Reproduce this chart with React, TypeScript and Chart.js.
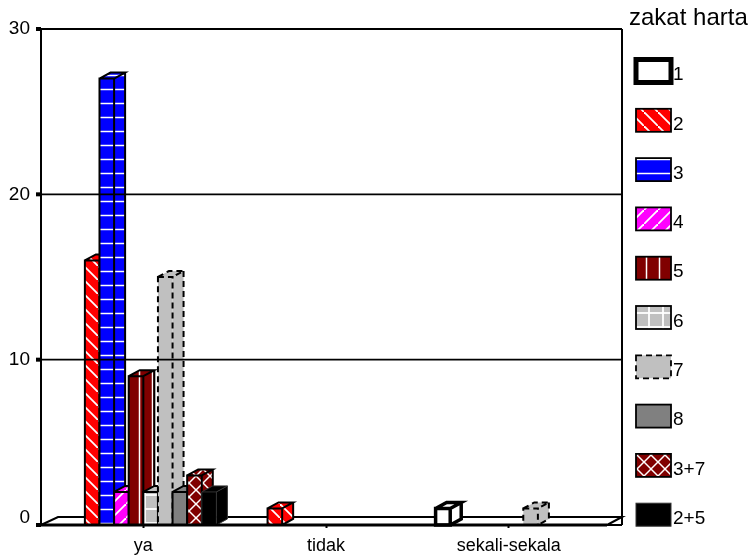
import React, { useEffect, useRef } from "react";
import { Chart, registerables } from "chart.js";

Chart.register(...registerables);

const categories = ["ya", "tidak", "sekali-sekala"];
const seriesNames = ["1", "2", "3", "4", "5", "6", "7", "8", "3+7", "2+5"];
const s1 = [null, null, 1];
const s2 = [16, 1, null];
const s3 = [27, null, null];
const s4 = [2, null, null];
const s5 = [9, null, null];
const s6 = [2, null, null];
const s7 = [15, null, 1];
const s8 = [2, null, null];
const s37 = [3, null, null];
const s25 = [2, null, null];
const seriesValues = [s1, s2, s3, s4, s5, s6, s7, s8, s37, s25];
const yTicks = [0, 10, 20, 30];

const FONT = '"Liberation Sans", Arial, sans-serif';
const DX = 11;
const DY = 6;

function tile(size: number, bg: string, paint: (c: CanvasRenderingContext2D) => void): CanvasPattern | string {
  const cv = document.createElement("canvas");
  cv.width = size;
  cv.height = size;
  const c = cv.getContext("2d")!;
  c.fillStyle = bg;
  c.fillRect(0, 0, size, size);
  c.strokeStyle = "#ffffff";
  paint(c);
  return c.createPattern(cv, "repeat")!;
}

function seg(c: CanvasRenderingContext2D, x0: number, y0: number, x1: number, y1: number) {
  c.beginPath();
  c.moveTo(x0, y0);
  c.lineTo(x1, y1);
  c.stroke();
}

function makeFills(): (CanvasPattern | string)[] {
  const back = (c: CanvasRenderingContext2D, s: number) => {
    seg(c, -2, -2, s + 2, s + 2);
  };
  const fwd = (c: CanvasRenderingContext2D, s: number) => {
    seg(c, -2, s + 2, s + 2, -2);
  };
  return [
    "#ffffff",
    tile(14, "#ff0000", (c) => { c.lineWidth = 1.8; back(c, 14); }),
    tile(14, "#0000ff", (c) => { c.lineWidth = 1.5; seg(c, 0, 5.5, 14, 5.5); }),
    tile(14, "#ff00ff", (c) => { c.lineWidth = 1.8; fwd(c, 14); }),
    tile(13, "#800000", (c) => { c.lineWidth = 1.5; seg(c, 9.5, 0, 9.5, 13); }),
    tile(14, "#c0c0c0", (c) => { c.lineWidth = 1.8; seg(c, 5, 0, 5, 14); seg(c, 0, 5, 14, 5); }),
    "#c0c0c0",
    "#808080",
    tile(14, "#800000", (c) => { c.lineWidth = 1.5; back(c, 14); fwd(c, 14); }),
    "#000000",
  ];
}

const outlineWidths = [3.5, 2, 2, 2, 2, 2, 2, 2, 2, 1];
const outlineColors = ["#000", "#000", "#000", "#000", "#000", "#000", "#000", "#000", "#000", "#333"];
const outlineDashes: number[][] = [[], [], [], [], [], [], [6, 4], [], [], []];

const frame3d = {
  id: "frame3d",
  beforeDatasetsDraw(chart: any) {
    const ctx: CanvasRenderingContext2D = chart.ctx;
    const yS = chart.scales.y;
    const L = 41, R = 622, T = yS.getPixelForValue(30), B = yS.getPixelForValue(0);
    const FR = 607, BK = B - 8, BL = 58;

    ctx.save();
    ctx.strokeStyle = "#000";
    ctx.lineWidth = 2;
    ctx.beginPath();
    ctx.moveTo(L, T); ctx.lineTo(L, B);
    ctx.moveTo(R, T); ctx.lineTo(R, B);
    ctx.moveTo(L, B); ctx.lineTo(BL, BK); ctx.lineTo(R, BK); ctx.lineTo(FR, B);
    ctx.moveTo(FR, B); ctx.lineTo(R, B);
    ctx.stroke();

    chart.getSortedVisibleDatasetMetas().forEach((meta: any) => {
      meta.controller.draw();
      const i = meta.index;
      const fill = chart.data.datasets[i].backgroundColor;
      meta.data.forEach((bar: any, k: number) => {
        if (chart.data.datasets[i].data[k] === null) return;
        const { x, y, base, width } = bar.getProps(["x", "y", "base", "width"], true);
        const l = x - width / 2, r = x + width / 2;
        ctx.fillStyle = fill;
        ctx.beginPath();
        ctx.moveTo(r, y); ctx.lineTo(r + DX, y - DY); ctx.lineTo(r + DX, base - DY); ctx.lineTo(r, base); ctx.closePath();
        ctx.fill();
        ctx.beginPath();
        ctx.moveTo(l, y); ctx.lineTo(l + DX, y - DY); ctx.lineTo(r + DX, y - DY); ctx.lineTo(r, y); ctx.closePath();
        ctx.fill();
        ctx.strokeStyle = outlineColors[i];
        ctx.lineWidth = outlineWidths[i];
        ctx.setLineDash(outlineDashes[i]);
        ctx.beginPath();
        ctx.rect(l, y, width, base - y);
        ctx.moveTo(l, y); ctx.lineTo(l + DX, y - DY); ctx.lineTo(r + DX, y - DY); ctx.lineTo(r, y);
        ctx.moveTo(r + DX, y - DY); ctx.lineTo(r + DX, base - DY); ctx.lineTo(r, base);
        ctx.stroke();
        ctx.setLineDash([]);
      });
    });

    // value grid lines run over the bars, as in the reference
    ctx.strokeStyle = "#000";
    yS.ticks.forEach((t: any) => {
      const py = yS.getPixelForValue(t.value);
      ctx.beginPath();
      ctx.moveTo(L, py);
      ctx.lineTo(t.value === 0 ? FR : R, py);
      ctx.lineWidth = t.value === 0 ? 3 : 1.8;
      ctx.stroke();
      ctx.fillStyle = "#000";
      ctx.fillRect(L - 5, py - 2, 5, 4);
    });
    ctx.restore();
    return false;
  },
  afterDraw(chart: any) {
    const ctx: CanvasRenderingContext2D = chart.ctx;
    ctx.save();
    ctx.fillStyle = "#000";
    ctx.textBaseline = "middle";
    ctx.textAlign = "left";
    ctx.font = `24px ${FONT}`;
    ctx.fillText("zakat harta", 629, 18);
    ctx.font = `19px ${FONT}`;
    chart.data.datasets.forEach((ds: any, i: number) => {
      const cy = 71 + i * 49.3;
      const x = 636, h = 23, w = 35;
      ctx.fillStyle = ds.backgroundColor;
      ctx.fillRect(x, cy - h / 2, w, h);
      ctx.strokeStyle = outlineColors[i];
      ctx.lineWidth = i === 0 ? 5 : i === 9 ? 1 : 1.8;
      ctx.setLineDash(outlineDashes[i]);
      ctx.strokeRect(x, cy - h / 2, w, h);
      ctx.setLineDash([]);
      ctx.fillStyle = "#000";
      ctx.fillText(ds.label, 673, cy + 4);
    });
    ctx.restore();
  },
};

export default function App() {
  const ref = useRef<HTMLCanvasElement>(null);
  useEffect(() => {
    const fills = makeFills();
    const chart = new Chart(ref.current!, {
      type: "bar",
      data: {
        labels: categories,
        datasets: seriesNames.map((name, i) => ({
          label: name,
          data: seriesValues[i],
          backgroundColor: fills[i],
          borderWidth: 0,
          categoryPercentage: 0.8,
          barPercentage: 1,
        })),
      } as any,
      options: {
        animation: false,
        responsive: false,
        layout: { padding: { top: 29, right: 156, left: 0, bottom: 0 } },
        plugins: { legend: { display: false }, tooltip: { enabled: false }, title: { display: false } },
        scales: {
          x: {
            afterFit: (s: any) => { s.height = 32; s.paddingLeft = 0; s.paddingRight = 0; },
            grid: { display: true, offset: false, drawOnChartArea: false, drawTicks: true, tickLength: 3, tickWidth: 2, tickColor: "#000" },
            border: { display: false },
            ticks: { color: "#000", padding: 7, maxRotation: 0, autoSkip: false, font: { family: FONT, size: 18 } },
          },
          y: {
            min: 0,
            max: 30,
            afterFit: (s: any) => { s.width = 52; s.paddingTop = 0; s.paddingBottom = 0; },
            afterBuildTicks: (s: any) => { s.ticks = yTicks.map((value) => ({ value })); },
            grid: { display: false },
            border: { display: false },
            ticks: {
              color: "#000",
              padding: 14,
              font: { family: FONT, size: 19, lineHeight: 0.8 },
              callback: (v: any) => (v === 0 ? ["0", ""] : String(v)),
            },
          },
        },
      } as any,
      plugins: [frame3d],
    });
    return () => chart.destroy();
  }, []);
  return (
    <div style={{ position: "absolute", left: 0, top: 0, width: 756, height: 557, background: "#fff" }}>
      <canvas ref={ref} width={756} height={557} style={{ display: "block" }} />
    </div>
  );
}
